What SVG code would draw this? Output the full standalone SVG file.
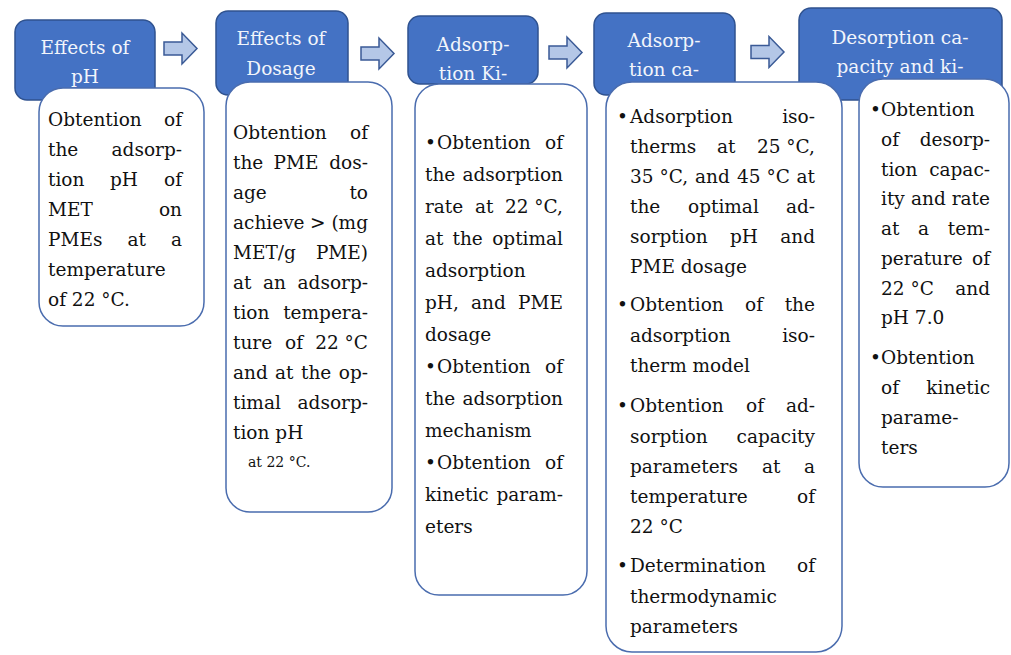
<svg xmlns="http://www.w3.org/2000/svg" width="1011" height="655" viewBox="0 0 1011 655">
<style>
.hdr{fill:#4472C4;stroke:#2F528F;stroke-width:1.5}
.bd{fill:#FFFFFF;stroke:#4A6CAE;stroke-width:1.5}
.arr{fill:#B4C7E7;stroke:#3A5A96;stroke-width:1.5;stroke-linejoin:miter}
text{font-family:"DejaVu Serif","Liberation Serif",serif;font-size:18.5px;fill:#111}
.h{fill:#F2F5FB;text-anchor:middle}
.e{text-anchor:end}
.sm{font-size:14px}
</style>
<defs>
<path id="arrow" class="arr" d="M0,-6.5 L18,-6.5 L18,-15.5 L33,0 L18,15.5 L18,6.5 L0,6.5 Z"/>
</defs>
<rect width="1011" height="655" fill="#FFFFFF"/>

<g id="connectors">
<use href="#arrow" transform="translate(164,48.5)"/>
<use href="#arrow" transform="translate(361,53.5)"/>
<use href="#arrow" transform="translate(549,52.5)"/>
<use href="#arrow" transform="translate(751,52)"/>
</g>

<g id="headers">
<g id="h1"><rect class="hdr" x="15" y="20" width="140" height="80" rx="12"/>
<text class="h" x="85" y="54">Effects of</text><text class="h" x="85" y="83">pH</text></g>
<g id="h2"><rect class="hdr" x="216" y="11" width="132" height="84" rx="12"/>
<text class="h" x="281" y="45">Effects of</text><text class="h" x="281" y="75">Dosage</text></g>
<g id="h3"><rect class="hdr" x="408" y="16" width="130" height="68" rx="12"/>
<text class="h" x="473" y="51">Adsorp-</text><text class="h" x="473" y="80">tion Ki-</text></g>
<g id="h4"><rect class="hdr" x="594" y="13" width="141" height="82" rx="12"/>
<text class="h" x="664" y="47">Adsorp-</text><text class="h" x="664" y="76">tion ca-</text></g>
<g id="h5"><rect class="hdr" x="799" y="8" width="203" height="92" rx="12"/>
<text class="h" x="900" y="44">Desorption ca-</text><text class="h" x="900" y="73">pacity and ki-</text></g>
</g>

<g id="node1">
<rect class="bd" x="39" y="88" width="165" height="238" rx="24"/>
<text x="48" y="126">Obtention<tspan class="e" x="182">of</tspan></text>
<text x="48" y="156">the<tspan class="e" x="182">adsorp-</tspan></text>
<text x="48" y="186">tion<tspan x="110">pH</tspan><tspan class="e" x="182">of</tspan></text>
<text x="48" y="216">MET<tspan class="e" x="182">on</tspan></text>
<text x="48" y="246">PMEs<tspan x="127.5">at</tspan><tspan class="e" x="182">a</tspan></text>
<text x="48" y="276">temperature</text>
<text x="48" y="306">of 22 °C.</text>
</g>

<g id="node2">
<rect class="bd" x="226" y="82" width="166" height="430" rx="24"/>
<text x="233" y="139">Obtention<tspan class="e" x="368">of</tspan></text>
<text x="233" y="169">the<tspan x="273.5">PME</tspan><tspan class="e" x="368">dos-</tspan></text>
<text x="233" y="199">age<tspan class="e" x="368">to</tspan></text>
<text x="233" y="229">achieve<tspan x="310">&gt;</tspan><tspan class="e" x="368">(mg</tspan></text>
<text x="233" y="259">MET/g<tspan class="e" x="368">PME)</tspan></text>
<text x="233" y="289">at<tspan x="263">an</tspan><tspan class="e" x="368">adsorp-</tspan></text>
<text x="233" y="319">tion<tspan class="e" x="368">tempera-</tspan></text>
<text x="233" y="349">ture<tspan x="285">of</tspan><tspan class="e" x="368">22 °C</tspan></text>
<text x="233" y="379">and<tspan x="275">at</tspan><tspan x="301">the</tspan><tspan class="e" x="368">op-</tspan></text>
<text x="233" y="409">timal<tspan class="e" x="368">adsorp-</tspan></text>
<text x="233" y="439">tion pH</text>
<text class="sm" x="248" y="467">at 22 °C.</text>
</g>

<g id="node3">
<rect class="bd" x="415" y="84" width="172" height="511" rx="24"/>
<text x="425" y="148.5">•<tspan x="437">Obtention</tspan><tspan class="e" x="563">of</tspan></text>
<text x="425" y="180.5">the<tspan class="e" x="563">adsorption</tspan></text>
<text x="425" y="212.5">rate<tspan x="475">at</tspan><tspan class="e" x="563">22 °C,</tspan></text>
<text x="425" y="244.5">at<tspan x="452.5">the</tspan><tspan class="e" x="563">optimal</tspan></text>
<text x="425" y="276.5">adsorption</text>
<text x="425" y="308.5">pH,<tspan x="471">and</tspan><tspan class="e" x="563">PME</tspan></text>
<text x="425" y="340.5">dosage</text>
<text x="425" y="372.5">•<tspan x="437">Obtention</tspan><tspan class="e" x="563">of</tspan></text>
<text x="425" y="404.5">the<tspan class="e" x="563">adsorption</tspan></text>
<text x="425" y="436.5">mechanism</text>
<text x="425" y="468.5">•<tspan x="437">Obtention</tspan><tspan class="e" x="563">of</tspan></text>
<text x="425" y="500.5">kinetic<tspan class="e" x="563">param-</tspan></text>
<text x="425" y="532.5">eters</text>
</g>

<g id="node4">
<rect class="bd" x="606" y="82" width="236" height="570" rx="26"/>
<text x="617" y="123">•<tspan x="630">Adsorption</tspan><tspan class="e" x="815">iso-</tspan></text>
<text x="630" y="153">therms<tspan x="717">at</tspan><tspan class="e" x="815">25 °C,</tspan></text>
<text x="630" y="183">35 °C,<tspan x="695">and</tspan><tspan x="737">45 °C</tspan><tspan class="e" x="815">at</tspan></text>
<text x="630" y="213">the<tspan x="688">optimal</tspan><tspan class="e" x="815">ad-</tspan></text>
<text x="630" y="243">sorption<tspan x="730">pH</tspan><tspan class="e" x="815">and</tspan></text>
<text x="630" y="273">PME dosage</text>
<text x="617" y="311">•<tspan x="630">Obtention</tspan><tspan x="745">of</tspan><tspan class="e" x="815">the</tspan></text>
<text x="630" y="342">adsorption<tspan class="e" x="815">iso-</tspan></text>
<text x="630" y="372">therm model</text>
<text x="617" y="412">•<tspan x="630">Obtention</tspan><tspan x="746">of</tspan><tspan class="e" x="815">ad-</tspan></text>
<text x="630" y="443">sorption<tspan class="e" x="815">capacity</tspan></text>
<text x="630" y="473">parameters<tspan x="762">at</tspan><tspan class="e" x="815">a</tspan></text>
<text x="630" y="503">temperature<tspan class="e" x="815">of</tspan></text>
<text x="630" y="533">22 °C</text>
<text x="617" y="572">•<tspan x="630">Determination</tspan><tspan class="e" x="815">of</tspan></text>
<text x="630" y="603">thermodynamic</text>
<text x="630" y="633">parameters</text>
</g>

<g id="node5">
<rect class="bd" x="859" y="79" width="150" height="408" rx="24"/>
<text x="870" y="116">•<tspan x="881">Obtention</tspan></text>
<text x="881" y="146">of<tspan class="e" x="990">desorp-</tspan></text>
<text x="881" y="176">tion<tspan class="e" x="990">capac-</tspan></text>
<text x="881" y="205">ity<tspan x="911">and</tspan><tspan class="e" x="990">rate</tspan></text>
<text x="881" y="235">at<tspan x="918">a</tspan><tspan class="e" x="990">tem-</tspan></text>
<text x="881" y="265">perature<tspan class="e" x="990">of</tspan></text>
<text x="881" y="295">22 °C<tspan class="e" x="990">and</tspan></text>
<text x="881" y="324">pH 7.0</text>
<text x="870" y="364">•<tspan x="881">Obtention</tspan></text>
<text x="881" y="394">of<tspan class="e" x="990">kinetic</tspan></text>
<text x="881" y="424">parame-</text>
<text x="881" y="454">ters</text>
</g>
</svg>
